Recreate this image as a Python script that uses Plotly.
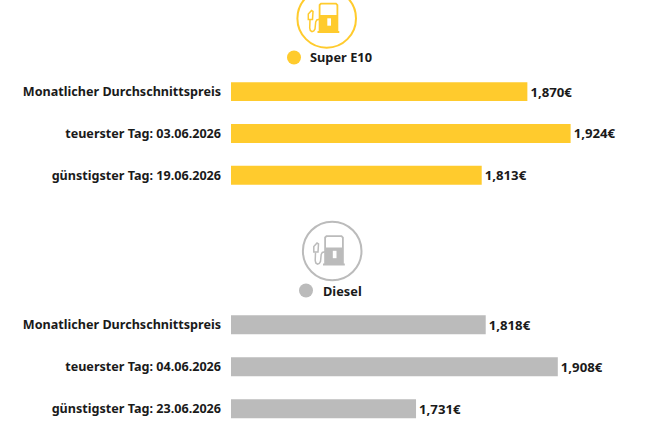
import plotly.graph_objects as go

W, H = 668, 445
FONT = "Noto Sans"
labels_e10 = ["Monatlicher Durchschnittspreis", "teuerster Tag: 03.06.2026", "günstigster Tag: 19.06.2026"]
values_e10 = [1.870, 1.924, 1.813]
text_e10 = ["1,870€", "1,924€", "1,813€"]
labels_diesel = ["Monatlicher Durchschnittspreis", "teuerster Tag: 04.06.2026", "günstigster Tag: 23.06.2026"]
values_diesel = [1.818, 1.908, 1.731]
text_diesel = ["1,818€", "1,908€", "1,731€"]
YELLOW = "#FFCB2D"
GREY = "#BBBBBB"
INK = "#1a1a1a"
BASE = 1.5

def px(x): return x / W
def py(y): return 1 - y / H

fig = go.Figure()
for lab, val, txt, col, ya in [(labels_e10, values_e10, text_e10, YELLOW, "y"),
                               (labels_diesel, values_diesel, text_diesel, GREY, "y2")]:
    fig.add_trace(go.Bar(y=lab, x=[v - BASE for v in val], base=BASE, orientation="h", marker_color=col,
                         marker_line_width=0, width=0.452, yaxis=ya, xaxis="x",
                         text=txt, textposition="outside", cliponaxis=False,
                         textfont=dict(family=FONT, size=13.2, color=INK, weight=700), showlegend=False,
                         hoverinfo="skip"))

def yaxis(top, bottom):
    return dict(domain=[py(bottom), py(top)], autorange=False, range=[2.5, -0.5], type="category",
                showgrid=False, showline=False, ticks="", zeroline=False, ticklabelstandoff=9,
                tickfont=dict(family=FONT, size=12.6, color=INK, weight=700))

shapes = []
def circle(cx, cy, r, **kw):
    shapes.append(dict(type="circle", xref="paper", yref="paper", x0=px(cx - r), x1=px(cx + r),
                       y0=py(cy + r), y1=py(cy - r), layer="above", **kw))

def path(pts, close=True, **kw):
    d = "M " + " L ".join(f"{px(a):.5f},{py(b):.5f}" for a, b in pts) + (" Z" if close else "")
    shapes.append(dict(type="path", xref="paper", yref="paper", path=d, layer="above", **kw))

def pump(dx, dy, col):
    P = lambda pts: [(a + dx, b + dy) for a, b in pts]
    path(P([(319.6, 5), (321, 3.6), (336, 3.6), (337.4, 5), (337.4, 31), (319.6, 31)]),
         line=dict(color=col, width=1.8), fillcolor="rgba(0,0,0,0)")
    path(P([(319.6, 15), (337.4, 15), (337.4, 31.5), (319.6, 31.5)]), line=dict(width=0), fillcolor=col)
    path(P([(317.5, 31), (339.3, 31), (339.3, 33), (317.5, 33)]), line=dict(width=0), fillcolor=col)
    path(P([(327.3, 18.3), (331, 18.3), (331, 25.7), (327.3, 25.7)]), line=dict(width=0), fillcolor="white")
    path(P([(319.5, 19.3), (316.8, 20), (315.7, 22), (315, 29), (313.8, 31), (312, 31.6), (310.3, 30.5),
            (309.7, 28), (310, 20)]), close=False, line=dict(color=col, width=1.5))
    path(P([(308.3, 19.5), (308.3, 14), (311.5, 10.5), (313, 11.5), (312.5, 19.5)]),
         line=dict(color=col, width=1.5), fillcolor="white")

circle(326.7, 18.4, 29.3, line=dict(color=YELLOW, width=2), fillcolor="white")
pump(0, 0, YELLOW)
circle(294, 57.5, 7, line=dict(width=0), fillcolor=YELLOW)
circle(332.2, 251, 29.3, line=dict(color=GREY, width=2), fillcolor="white")
pump(5.5, 232.5, GREY)
circle(306, 290.5, 7, line=dict(width=0), fillcolor=GREY)

ann = [dict(x=px(308), y=py(57.5), text="Super E10"), dict(x=px(321), y=py(290.5), text="Diesel")]
annotations = [dict(xref="paper", yref="paper", xanchor="left", yanchor="middle", showarrow=False,
                    font=dict(family=FONT, size=12.8, color=INK, weight=700), **a) for a in ann]

fig.update_layout(width=W, height=H, margin=dict(l=0, r=0, t=0, b=0), paper_bgcolor="white", plot_bgcolor="white",
                  barmode="overlay", shapes=shapes, annotations=annotations,
                  xaxis=dict(domain=[px(231), 1], range=[BASE, BASE + (W - 231) / 801], visible=False, fixedrange=True),
                  yaxis=yaxis(70.7, 196.2), yaxis2=yaxis(303.7, 429.7))
fig.write_html("out.html", config={"displayModeBar": False}, post_script="document.body.style.margin='0';")
